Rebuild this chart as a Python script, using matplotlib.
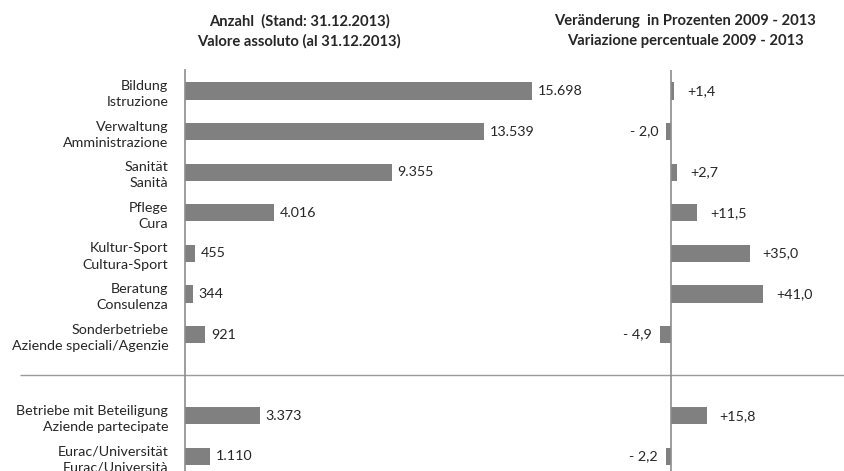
import matplotlib.pyplot as plt
import numpy as np

plt.rcParams['font.family'] = ['Lato', 'DejaVu Sans']

categories = [
    "Bildung\nIstruzione",
    "Verwaltung\nAmministrazione",
    "Sanität\nSanità",
    "Pflege\nCura",
    "Kultur-Sport\nCultura-Sport",
    "Beratung\nConsulenza",
    "Sonderbetriebe\nAziende speciali/Agenzie",
    "Betriebe mit Beteiligung\nAziende partecipate",
    "Eurac/Universität\nEurac/Università",
]
# row positions: a blank row separates the last two groups
positions = [0, 1, 2, 3, 4, 5, 6, 8, 9]
counts = [15698, 13539, 9355, 4016, 455, 344, 921, 3373, 1110]
change_pct = [1.4, -2.0, 2.7, 11.5, 35.0, 41.0, -4.9, 15.8, -2.2]

W, H = 845, 471
bar_color = '#808080'
line_color = '#8c8c8c'
text_color = '#262626'
fs = 10.3
row_px = 40.6
top_px, first_px = 70, 91
ylim = ((H - first_px) / row_px, -(first_px - top_px) / row_px)

fig = plt.figure(figsize=(W / 100, H / 100), dpi=100)
ax_h = (H - top_px) / H

# background axes for the separator line across the figure
bg = fig.add_axes([0, 0, 1, ax_h])
bg.set_xlim(0, W)
bg.set_ylim(*ylim)
bg.axis('off')
bg.hlines(7, 20, W, color='#9a9a9a', lw=1.0)

# left panel: absolute numbers
x0 = 185
scale_l = 0.0221  # px per employee
axl = fig.add_axes([x0 / W, 0, (600 - x0) / W, ax_h])
axl.set_xlim(0, (600 - x0) / scale_l)
axl.set_ylim(*ylim)
axl.barh(positions, counts, height=0.42, color=bar_color)
for p, v in zip(positions, counts):
    axl.text(v + 6 / scale_l, p, f"{v:,}".replace(",", "."), va='center',
             ha='left', fontsize=fs, color=text_color)
axl.set_yticks(positions)
axl.set_yticklabels(categories, fontsize=fs, color=text_color,
                    linespacing=1.42, ha='right')
axl.tick_params(axis='y', length=0, pad=12)
axl.set_xticks([])
for s in ['top', 'right', 'bottom']:
    axl.spines[s].set_visible(False)
axl.spines['left'].set_color(line_color)
axl.spines['left'].set_linewidth(1.2)
axl.patch.set_alpha(0)

# right panel: percentage change
x1 = 671
scale_r = 2.25  # px per percent
axr = fig.add_axes([590 / W, 0, (W - 590) / W, ax_h])
axr.set_xlim(-(x1 - 590) / scale_r, (W - x1) / scale_r)
axr.set_ylim(*ylim)
axr.barh(positions, change_pct, height=0.42, color=bar_color)
for p, v in zip(positions, change_pct):
    s = f"{abs(v):.1f}".replace(".", ",")
    if v >= 0:
        axr.text(v + 13 / scale_r, p, "+" + s, va='center', ha='left',
                 fontsize=fs, color=text_color)
    else:
        axr.text(v - 8 / scale_r, p, "- " + s, va='center', ha='right',
                 fontsize=fs, color=text_color)
axr.axvline(0, color=line_color, lw=1.2)
axr.axis('off')

fig.text(299 / W, 1 - 31 / H, "Anzahl  (Stand: 31.12.2013)\nValore assoluto (al 31.12.2013)",
         ha='center', va='center', fontsize=10.6, fontweight='bold',
         color=text_color, linespacing=1.5)
fig.text(685 / W, 1 - 31 / H, "Veränderung  in Prozenten 2009 - 2013\nVariazione percentuale 2009 - 2013",
         ha='center', va='center', fontsize=10.6, fontweight='bold',
         color=text_color, linespacing=1.5)

fig.savefig('out.png', dpi=100, facecolor='white')
